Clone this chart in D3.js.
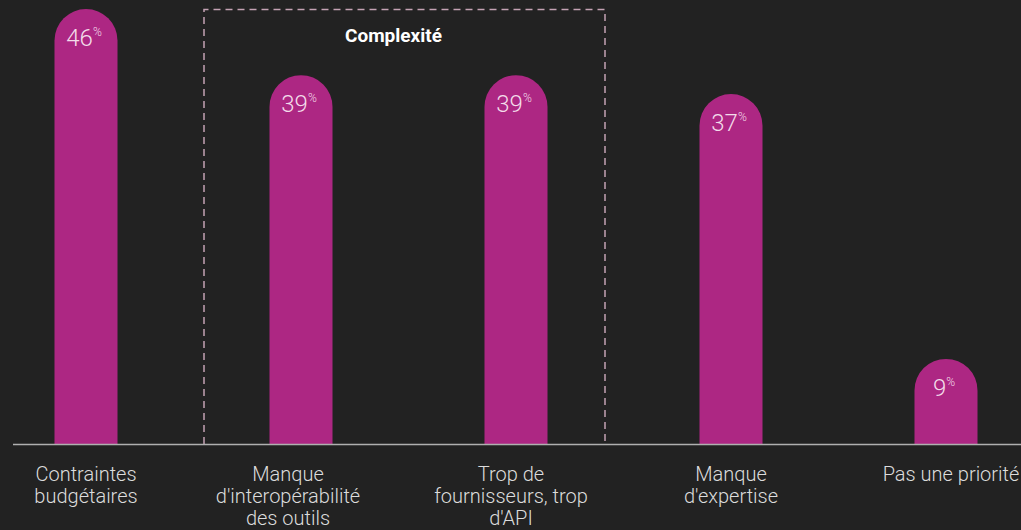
<!DOCTYPE html>
<html><head><meta charset="utf-8">
<script src="https://cdn.jsdelivr.net/npm/d3@7"></script>
<style>
html,body{margin:0;padding:0;background:#222222;}
svg{display:block;}
</style></head>
<body>
<svg id="chart" width="1021" height="530"></svg>
<script>
const categories = ["Contraintes budgétaires","Manque d'interopérabilité des outils","Trop de fournisseurs, trop d'API","Manque d'expertise","Pas une priorité"];
const labelLines = [["Contraintes","budgétaires"],["Manque","d'interopérabilité","des outils"],["Trop de","fournisseurs, trop","d'API"],["Manque","d'expertise"],["Pas une priorité"]];
const values = [46,39,39,37,9];
const groupTitle = "Complexité";
const groupMembers = ["Manque d'interopérabilité des outils","Trop de fournisseurs, trop d'API"];

const svg = d3.select("#chart");
const W = 1021, H = 530;
const baseY = 444;
const x = d3.scalePoint().domain(categories).range([86, 946]);
const y = d3.scaleLinear().domain([0, 46]).range([baseY, 9]);
const bw = 63, r = bw/2;
const font = "Roboto, 'Noto Sans', sans-serif";

// group dashed box
const gx0 = x(groupMembers[0]) - 97, gx1 = x(groupMembers[1]) + 89;
svg.append("path")
  .attr("d", `M${gx0},${baseY} V9.5 H${gx1} V${baseY}`)
  .attr("fill","none").attr("stroke","#c4a2b4").attr("stroke-width",1.5)
  .attr("stroke-dasharray","7,5");
svg.append("text").attr("x", (gx0+gx1)/2 - 11).attr("y", 42)
  .attr("text-anchor","middle").attr("fill","#ffffff")
  .attr("font-family", font).attr("font-weight",700).attr("font-size",19)
  .text(groupTitle);

// bars
const g = svg.append("g");
categories.forEach((c,i)=>{
  const cx = x(c), top = y(values[i]);
  g.append("path")
    .attr("d", `M${cx-r},${baseY} V${top+r} A${r},${r} 0 0 1 ${cx+r},${top+r} V${baseY} Z`)
    .attr("fill","#ad2783");
  const t = g.append("text").attr("x", cx-2).attr("y", top+37)
    .attr("text-anchor","middle").attr("fill","#f3dcea")
    .attr("font-family", font).attr("font-weight",300);
  t.append("tspan").attr("font-size",24).text(values[i]);
  t.append("tspan").attr("font-size",12).attr("dy",-10).text("%");
});

// axis line
svg.append("line").attr("x1",13).attr("x2",W).attr("y1",baseY+0.5).attr("y2",baseY+0.5)
  .attr("stroke","#b0b0b0").attr("stroke-width",1.5);

// category labels
categories.forEach((c,i)=>{
  const t = svg.append("text").attr("text-anchor","middle").attr("fill","#dcdcdc")
    .attr("font-family", font).attr("font-weight",300).attr("font-size",20);
  labelLines[i].forEach((ln,j)=>{
    t.append("tspan").attr("x", x(c) + (i===1? -13 : (i===4? 5:(i===2?-5:0)))).attr("y", 481 + j*22).text(ln);
  });
});
</script>
</body></html>
